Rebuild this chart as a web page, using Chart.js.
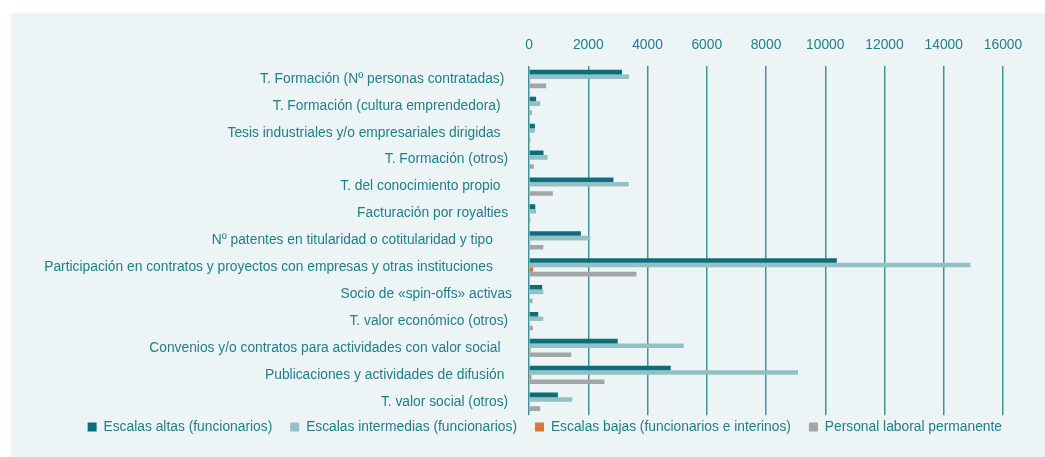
<!DOCTYPE html>
<html>
<head>
<meta charset="utf-8">
<script src="https://cdn.jsdelivr.net/npm/chart.js@4"></script>
<style>
  html, body { margin: 0; padding: 0; background: #ffffff; }
  #panel { position: absolute; left: 11px; top: 13px; right: 0; bottom: 0; background: #ecf4f6; }
  #wrap { position: absolute; left: 0; top: 0; width: 1045px; height: 457px; }
</style>
</head>
<body>
<div id="panel"></div>
<div id="wrap"><canvas id="myChart"></canvas></div>
<script>
// categories (trailing spaces keep the original label alignment)
const categories = [
  'T. Formación (Nº personas contratadas)  ',
  'T. Formación (cultura emprendedora)   ',
  'Tesis industriales y/o empresariales dirigidas   ',
  'T. Formación (otros) ',
  'T. del conocimiento propio   ',
  'Facturación por royalties ',
  'Nº patentes en titularidad o cotitularidad y tipo     ',
  'Participación en contratos y proyectos con empresas y otras instituciones     ',
  'Socio de «spin-offs» activas',
  'T. valor económico (otros) ',
  'Convenios y/o contratos para actividades con valor social   ',
  'Publicaciones y actividades de difusión  ',
  'T. valor social (otros) '
];

const escalasAltas = [3140, 240, 200, 490, 2850, 210, 1750, 10390, 445, 310, 2995, 4785, 975];
const escalasIntermedias = [3380, 380, 200, 625, 3365, 240, 2070, 14900, 480, 480, 5225, 9080, 1460];
const escalasBajas = [40, 0, 0, 0, 30, 0, 40, 140, 0, 0, 50, 75, 0];
const personalLaboral = [580, 95, 50, 160, 805, 50, 480, 3625, 118, 130, 1425, 2545, 380];

const xTicks = [0, 2000, 4000, 6000, 8000, 10000, 12000, 14000, 16000];

const textColor = '#1f7e8a';
const font = { family: 'Liberation Sans, Arial, sans-serif', size: 13.8 };

// moves the legend up closer to the plot and to the right, as in the original
const liftLegend = {
  id: 'liftLegend',
  afterLayout(chart) {
    chart.legend.top -= 13;
    chart.legend.bottom -= 13;
    chart.legend.left += 17;
    chart.legend.right += 17;
  }
};

const ctx = document.getElementById('myChart');

new Chart(ctx, {
  type: 'bar',
  data: {
    labels: categories,
    datasets: [{
      label: 'Escalas altas (funcionarios)',
      data: escalasAltas,
      backgroundColor: '#0b6e7b'
    }, {
      label: 'Escalas intermedias (funcionarios)',
      data: escalasIntermedias,
      backgroundColor: '#93c0c6'
    }, {
      label: 'Escalas bajas (funcionarios e interinos)',
      data: escalasBajas,
      backgroundColor: '#d9773a'
    }, {
      label: 'Personal laboral permanente',
      data: personalLaboral,
      backgroundColor: '#a3a6a7'
    }]
  },
  plugins: [liftLegend],
  options: {
    indexAxis: 'y',
    responsive: true,
    maintainAspectRatio: false,
    animation: false,
    layout: { padding: { left: 0, right: 42, top: 25, bottom: 0 } },
    datasets: {
      bar: { categoryPercentage: 0.68, barPercentage: 1.0, borderWidth: 0 }
    },
    scales: {
      x: {
        position: 'top',
        min: xTicks[0],
        max: xTicks[xTicks.length - 1],
        afterBuildTicks: (axis) => { axis.ticks = xTicks.map(v => ({ value: v })); },
        ticks: { color: textColor, font: font, padding: 12, callback: (v) => String(v) },
        grid: { color: '#3f939d', lineWidth: 1.5, drawTicks: false },
        border: { display: false }
      },
      y: {
        afterFit: (axis) => { axis.width = 529; },
        ticks: { color: textColor, font: font, padding: 17, autoSkip: false },
        grid: { display: false, drawTicks: false },
        border: { display: false }
      }
    },
    plugins: {
      legend: {
        position: 'bottom',
        align: 'end',
        maxHeight: 48,
        labels: {
          color: textColor,
          font: font,
          boxWidth: 9,
          boxHeight: 9,
          padding: 18
        }
      },
      tooltip: { enabled: false }
    }
  }
});
</script>
</body>
</html>
